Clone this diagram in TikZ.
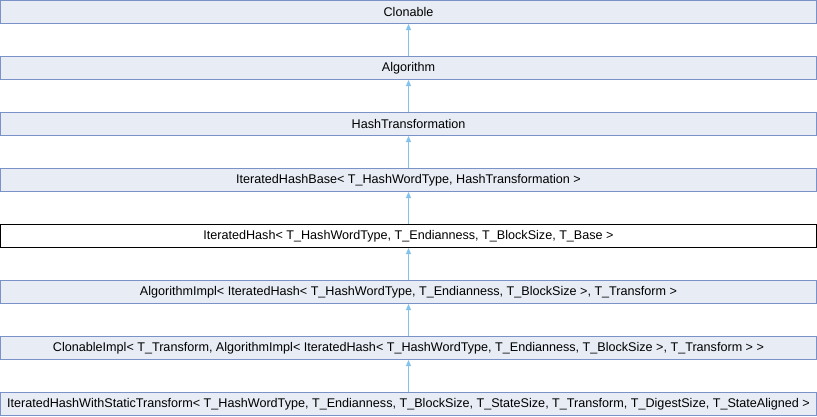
\documentclass[tikz,border=0pt]{standalone}
\usepackage{fontspec}
\setmainfont{Liberation Sans}
\usetikzlibrary{arrows.meta}
\definecolor{boxfill}{RGB}{232,236,245}
\definecolor{boxline}{RGB}{122,146,200}
\definecolor{edgeblue}{RGB}{130,195,235}
\tikzset{
  cls/.style={draw=boxline, fill=boxfill, line width=1pt, rectangle,
    minimum width=816pt, minimum height=23pt, inner sep=0pt,
    font=\fontsize{12.6pt}{14pt}\selectfont},
  current/.style={cls, draw=black, fill=white},
  inh/.style={draw=edgeblue, line width=1pt,
    -{Triangle[width=5pt,length=6pt,fill=edgeblue]}}
}
\begin{document}
\begin{tikzpicture}[x=1pt,y=1pt]
\useasboundingbox (0,0) rectangle (817,-416);
\node[cls]     (clonable) at (408.5,-12)  {Clonable};
\node[cls]     (algo)     at (408.5,-68)  {Algorithm};
\node[cls]     (hasht)    at (408.5,-124) {HashTransformation};
\node[cls]     (ihbase)   at (408.5,-180) {IteratedHashBase< T\_HashWordType, HashTransformation >};
\node[current] (ihash)    at (408.5,-236) {IteratedHash< T\_HashWordType, T\_Endianness, T\_BlockSize, T\_Base >};
\node[cls]     (algimpl)  at (408.5,-292) {AlgorithmImpl< IteratedHash< T\_HashWordType, T\_Endianness, T\_BlockSize >, T\_Transform >};
\node[cls]     (climpl)   at (408.5,-348) {ClonableImpl< T\_Transform, AlgorithmImpl< IteratedHash< T\_HashWordType, T\_Endianness, T\_BlockSize >, T\_Transform > >};
\node[cls]     (ihwst)    at (408.5,-404) {IteratedHashWithStaticTransform< T\_HashWordType, T\_Endianness, T\_BlockSize, T\_StateSize, T\_Transform, T\_DigestSize, T\_StateAligned >};
\draw[inh] (algo.north)    -- (clonable.south);
\draw[inh] (hasht.north)   -- (algo.south);
\draw[inh] (ihbase.north)  -- (hasht.south);
\draw[inh] (ihash.north)   -- (ihbase.south);
\draw[inh] (algimpl.north) -- (ihash.south);
\draw[inh] (climpl.north)  -- (algimpl.south);
\draw[inh] (ihwst.north)   -- (climpl.south);
\end{tikzpicture}
\end{document}
